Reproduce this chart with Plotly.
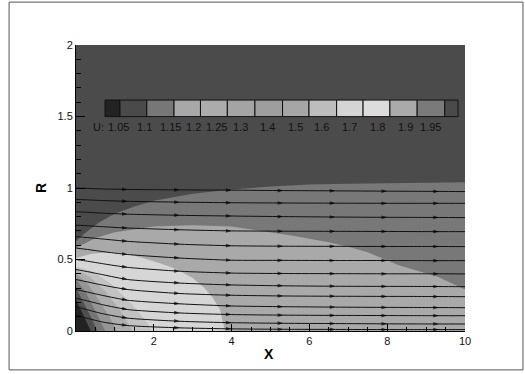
import plotly.graph_objects as go

# ---- contour bands (filled regions, painted back to front) ----
# each band: points (x, R) of its upper edge, closed down to the axis
band_colors = ["#787878", "#a9a9a9", "#d6d6d6", "#c2c2c2", "#adadad", "#959595", "#767676", "#4e4e4e", "#222222"]

medium_x = [0, 0.3, 0.6, 1.0, 1.5, 2.0, 3.0, 4.0, 5.0, 6.0, 7.0, 8.0, 9.0, 10.0]
medium_r = [0.63, 0.70, 0.76, 0.82, 0.87, 0.91, 0.96, 0.99, 1.01, 1.025, 1.03, 1.035, 1.035, 1.04]

light_x = [0, 0.5, 1.0, 2.0, 3.0, 4.0, 4.5, 5.5, 6.5, 7.0, 7.5, 8.3, 9.3, 10.0]
light_r = [0.58, 0.65, 0.69, 0.73, 0.74, 0.73, 0.71, 0.67, 0.62, 0.59, 0.55, 0.46, 0.38, 0.29]

core_x = [0, 0.4, 0.87, 1.3, 1.72, 2.2, 2.6, 3.0, 3.27, 3.5, 3.7, 3.83]
core_r = [0.51, 0.54, 0.55, 0.54, 0.51, 0.47, 0.43, 0.37, 0.31, 0.24, 0.15, 0.0]

fan1_x = [0, 0.4, 0.9, 1.4, 1.8, 1.95]
fan1_r = [0.45, 0.42, 0.33, 0.20, 0.07, 0.0]

fan2_x = [0, 0.35, 0.75, 1.15, 1.45]
fan2_r = [0.43, 0.38, 0.28, 0.14, 0.0]

fan3_x = [0, 0.3, 0.6, 0.9, 1.05]
fan3_r = [0.40, 0.33, 0.21, 0.08, 0.0]

fan4_x = [0, 0.25, 0.5, 0.75]
fan4_r = [0.36, 0.27, 0.14, 0.0]

fan5_x = [0, 0.2, 0.4, 0.55]
fan5_r = [0.30, 0.20, 0.09, 0.0]

fan6_x = [0, 0.15, 0.28, 0.38]
fan6_r = [0.22, 0.13, 0.05, 0.0]

# ---- streamlines: R sampled at fixed x stations ----
stream_x = [0, 0.3, 0.7, 1.33, 2.67, 4.0, 5.33, 6.67, 8.0, 9.33, 10.0]
stream_r = [
    [1.00, 0.997, 0.993, 0.99, 0.987, 0.985, 0.982, 0.98, 0.978, 0.976, 0.975],
    [0.92, 0.917, 0.912, 0.907, 0.901, 0.897, 0.895, 0.894, 0.893, 0.893, 0.893],
    [0.834, 0.83, 0.824, 0.817, 0.809, 0.804, 0.800, 0.797, 0.795, 0.794, 0.793],
    [0.74, 0.736, 0.729, 0.72, 0.708, 0.70, 0.698, 0.697, 0.696, 0.695, 0.695],
    [0.66, 0.653, 0.643, 0.627, 0.607, 0.596, 0.593, 0.592, 0.591, 0.591, 0.590],
    [0.58, 0.57, 0.555, 0.535, 0.51, 0.495, 0.494, 0.493, 0.493, 0.492, 0.492],
    [0.50, 0.488, 0.47, 0.445, 0.418, 0.405, 0.402, 0.401, 0.40, 0.40, 0.399],
    [0.43, 0.415, 0.393, 0.36, 0.335, 0.322, 0.316, 0.313, 0.312, 0.311, 0.310],
    [0.36, 0.343, 0.32, 0.29, 0.262, 0.25, 0.245, 0.243, 0.242, 0.241, 0.240],
    [0.29, 0.272, 0.248, 0.215, 0.19, 0.175, 0.17, 0.167, 0.165, 0.164, 0.163],
    [0.23, 0.21, 0.183, 0.15, 0.126, 0.115, 0.111, 0.109, 0.108, 0.107, 0.107],
    [0.17, 0.148, 0.12, 0.09, 0.068, 0.058, 0.054, 0.052, 0.05, 0.049, 0.049],
    [0.11, 0.088, 0.062, 0.038, 0.022, 0.015, 0.012, 0.011, 0.01, 0.01, 0.01],
]
arrow_flags = [0, 0, 0, 1, 1, 1, 1, 1, 1, 1, 0]

# ---- legend ----
legend_labels = ["1.05", "1.1", "1.15", "1.2", "1.25", "1.3", "1.4", "1.5", "1.6", "1.7", "1.8", "1.9", "1.95"]
legend_colors = ["#222222", "#4a4a4a", "#777777", "#a8a8a8", "#acacac", "#a4a4a4", "#9e9e9e",
                 "#a6a6a6", "#bdbdbd", "#d5d5d5", "#dcdcdc", "#aaaaaa", "#7a7a7a", "#4a4a4a"]
legend_edges = [0.746, 1.13, 1.82, 2.52, 3.2, 3.89, 4.6, 5.31, 5.99, 6.7, 7.38, 8.07, 8.77, 9.48, 9.82]
legend_label_x = [1.08, 1.76, 2.42, 3.03, 3.62, 4.23, 4.93, 5.65, 6.32, 7.04, 7.74, 8.46, 9.12]

FONT = "Liberation Sans, Arial, Helvetica"

fig = go.Figure()


def add_band(xs, rs, color):
    end_x = 10 if xs[-1] >= 10 else xs[-1]
    px = list(xs) + [end_x, 0, 0]
    pr = list(rs) + [0, 0, rs[0]]
    fig.add_trace(go.Scatter(x=px, y=pr, mode="lines", fill="toself", fillcolor=color,
                             line=dict(width=0, color=color), hoverinfo="skip", showlegend=False))


bands = [(medium_x, medium_r), (light_x, light_r), (core_x, core_r), (fan1_x, fan1_r),
         (fan2_x, fan2_r), (fan3_x, fan3_r), (fan4_x, fan4_r), (fan5_x, fan5_r), (fan6_x, fan6_r)]
for (bx, br), c in zip(bands, band_colors):
    add_band(bx, br, c)

for rs in stream_r:
    fig.add_trace(go.Scatter(
        x=stream_x, y=rs, mode="lines+markers",
        line=dict(color="#111111", width=1, shape="spline", smoothing=0.6),
        marker=dict(symbol="arrow", angleref="previous", color="#000000",
                    size=[6 if f else 0 for f in arrow_flags], line=dict(width=0)),
        hoverinfo="skip", showlegend=False))

# legend cells
R0, R1 = 1.499, 1.615
for i, c in enumerate(legend_colors):
    fig.add_shape(type="rect", x0=legend_edges[i], x1=legend_edges[i + 1], y0=R0, y1=R1,
                  fillcolor=c, line=dict(color="#111111", width=1), layer="above")
for lx, lab in zip(legend_label_x, legend_labels):
    fig.add_annotation(x=lx, y=1.43, text=lab, showarrow=False, xanchor="center", yanchor="middle",
                       font=dict(family=FONT, size=11, color="#111111"))
fig.add_annotation(x=0.58, y=1.43, text="U:", showarrow=False, xanchor="center", yanchor="middle",
                   font=dict(family=FONT, size=11, color="#111111"))

# axis titles
fig.add_annotation(xref="paper", yref="paper", x=0.497, y=-0.045, text="<b>X</b>", showarrow=False,
                   xanchor="center", yanchor="top", font=dict(family=FONT, size=14, color="#000"))
fig.add_annotation(xref="paper", yref="paper", x=-0.09, y=0.5, text="<b>R</b>", showarrow=False, textangle=-90,
                   xanchor="center", yanchor="middle", font=dict(family=FONT, size=14, color="#000"))

# outer frame
fig.add_shape(type="rect", xref="paper", yref="paper", x0=-0.172, x1=1.149, y0=-0.136, y1=1.150,
              line=dict(color="#555555", width=1), fillcolor="rgba(0,0,0,0)")

fig.update_layout(
    width=525, height=374,
    margin=dict(l=76, r=60, t=45, b=43),
    paper_bgcolor="white", plot_bgcolor="#4b4b4b",
    font=dict(family=FONT, size=11, color="#111111"),
    showlegend=False,
)
fig.update_xaxes(range=[0, 10], tickvals=[2, 4, 6, 8, 10], ticks="inside", ticklen=7, tickcolor="#000",
                 showline=True, linecolor="#000", linewidth=1, showgrid=False, zeroline=False,
                 minor=dict(ticks="inside", dtick=0.5, tick0=0, ticklen=4, tickcolor="#000", showgrid=False),
                 tickfont=dict(size=11))
fig.update_yaxes(range=[0, 2], tickvals=[0, 0.5, 1, 1.5, 2], ticktext=["0", "0.5", "1", "1.5", "2"],
                 ticks="inside", ticklen=9, tickcolor="#000",
                 showline=True, linecolor="#000", linewidth=1, showgrid=False, zeroline=False,
                 minor=dict(ticks="inside", dtick=0.1, tick0=0, ticklen=5, tickcolor="#000", showgrid=False),
                 tickfont=dict(size=11))

fig.write_html("out.html")
